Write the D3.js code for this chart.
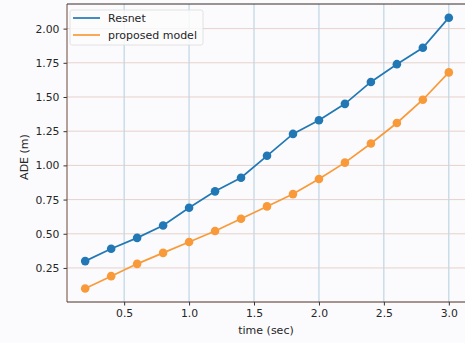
<!DOCTYPE html>
<html>
<head>
<meta charset="UTF-8" />
<script src="https://cdn.jsdelivr.net/npm/d3@7"></script>
<style>
  body { margin: 0; background: #fbfbfd; }
  text { font-family: "DejaVu Sans", sans-serif; fill: #262626; }
</style>
</head>
<body>
<div id="chart"></div>
<script>
const times = [0.2, 0.4, 0.6, 0.8, 1.0, 1.2, 1.4, 1.6, 1.8, 2.0, 2.2, 2.4, 2.6, 2.8, 3.0];
const resnet = [0.30, 0.39, 0.47, 0.56, 0.69, 0.81, 0.91, 1.07, 1.23, 1.33, 1.45, 1.61, 1.74, 1.86, 2.08];
const proposed = [0.10, 0.19, 0.28, 0.36, 0.44, 0.52, 0.61, 0.70, 0.79, 0.90, 1.02, 1.16, 1.31, 1.48, 1.68];
const xTicks = [0.5, 1.0, 1.5, 2.0, 2.5, 3.0];
const yTicks = [0.25, 0.50, 0.75, 1.00, 1.25, 1.50, 1.75, 2.00];
const seriesNames = ["Resnet", "proposed model"];
const seriesColors = ["#2178b4", "#f99a3a"];

const width = 465, height = 343;
const plotL = 67, plotT = 4, plotR = 467, plotB = 302;

const x = d3.scaleLinear().domain([0.06, 3.14]).range([plotL, plotR]);
const y = d3.scaleLinear().domain([0.001, 2.18]).range([plotB, plotT]);

const svg = d3.select("#chart").append("svg")
    .attr("width", width)
    .attr("height", height);

svg.append("rect").attr("width", width).attr("height", height).attr("fill", "#fbfbfd");

// grid
svg.append("g").selectAll("line")
    .data(xTicks)
    .join("line")
    .attr("x1", d => x(d)).attr("x2", d => x(d))
    .attr("y1", plotT).attr("y2", plotB)
    .attr("stroke", "#a8c8dc").attr("stroke-width", 0.9);

svg.append("g").selectAll("line")
    .data(yTicks)
    .join("line")
    .attr("x1", plotL).attr("x2", plotR)
    .attr("y1", d => y(d)).attr("y2", d => y(d))
    .attr("stroke", "#e3cdc6").attr("stroke-width", 0.9);

// axes
const xAxis = svg.append("g")
    .attr("transform", `translate(0,${plotB})`)
    .call(d3.axisBottom(x).tickValues(xTicks).tickFormat(d3.format(".1f")).tickSize(3.5).tickPadding(4));
const yAxis = svg.append("g")
    .attr("transform", `translate(${plotL},0)`)
    .call(d3.axisLeft(y).tickValues(yTicks).tickFormat(d3.format(".2f")).tickSize(3.5).tickPadding(4));

[xAxis, yAxis].forEach(a => {
    a.select(".domain").remove();
    a.selectAll(".tick line").attr("stroke", "#333");
    a.selectAll(".tick text").attr("font-size", 10.8).style("fill", "#262626");
});

// spines
svg.append("line").attr("x1", plotL).attr("x2", plotL).attr("y1", plotT).attr("y2", plotB)
    .attr("stroke", "#6b4638").attr("stroke-width", 1);
svg.append("line").attr("x1", plotL).attr("x2", plotR).attr("y1", plotB).attr("y2", plotB)
    .attr("stroke", "#4a2e26").attr("stroke-width", 1);
svg.append("line").attr("x1", plotL).attr("x2", plotR).attr("y1", plotT).attr("y2", plotT)
    .attr("stroke", "#3a2a26").attr("stroke-width", 1);

// series
const allSeries = [resnet, proposed];
const line = d3.line().x((d, i) => x(times[i])).y(d => y(d));
allSeries.forEach((vals, k) => {
    svg.append("path")
        .datum(vals)
        .attr("fill", "none")
        .attr("stroke", seriesColors[k])
        .attr("stroke-width", 1.7)
        .attr("d", line);
    svg.append("g").selectAll("circle")
        .data(vals)
        .join("circle")
        .attr("cx", (d, i) => x(times[i]))
        .attr("cy", d => y(d))
        .attr("r", 4.3)
        .attr("fill", seriesColors[k]);
});

// labels
svg.append("text")
    .attr("x", 266).attr("y", 334)
    .attr("text-anchor", "middle").attr("font-size", 11)
    .text("time (sec)");
svg.append("text")
    .attr("transform", `translate(28,157) rotate(-90)`)
    .attr("text-anchor", "middle").attr("font-size", 11)
    .text("ADE (m)");

// legend
const lg = svg.append("g").attr("transform", "translate(70,10)");
lg.append("rect")
    .attr("width", 133).attr("height", 35).attr("rx", 2)
    .attr("fill", "#fbfbfd").attr("fill-opacity", 0.85)
    .attr("stroke", "#dcdcdc").attr("stroke-width", 0.8);
seriesNames.forEach((name, k) => {
    const yy = 8 + k * 17;
    lg.append("line")
        .attr("x1", 3).attr("x2", 30).attr("y1", yy).attr("y2", yy)
        .attr("stroke", seriesColors[k]).attr("stroke-width", 1.7);
    lg.append("text")
        .attr("x", 38).attr("y", yy + 4)
        .attr("font-size", 11)
        .text(name);
});
</script>
</body>
</html>
